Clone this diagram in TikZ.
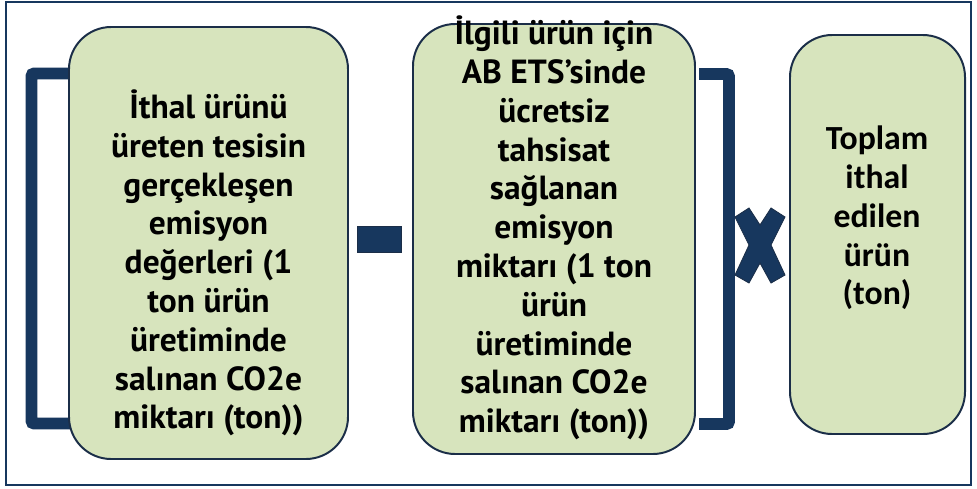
\documentclass[tikz,border=0pt]{standalone}
\usepackage{fontspec}
\setmainfont{PT Sans}
\newfontfamily\boxthree{Carlito}[Ligatures=NoCommon]
\usetikzlibrary{fit}
\definecolor{colorfill}{HTML}{D7E4BD}
\definecolor{colornavy}{HTML}{17375E}
\definecolor{colorline}{HTML}{1B2E48}
\tikzset{
  box/.style={draw=colorline, fill=colorfill, line width=1.4pt, rounded corners=30pt, inner sep=0pt},
  txt/.style={align=center, font=\bfseries\fontsize{23.8}{27.6}\selectfont, inner sep=0pt},
  brk/.style={colornavy, line width=8.5pt, rounded corners=2pt},
  op/.style={fill=colornavy, draw=colorline, line width=0.6pt}
}
\begin{document}
\begin{tikzpicture}[x=0.025cm, y=-0.025cm]
\useasboundingbox (0,0) rectangle (977,488);
\draw[colornavy, line width=2pt] (6,2) rectangle (971,485);
% brackets
\draw[brk] (75,73.5) -- (31.5,73.5) -- (31.5,423.5) -- (75,423.5);
\draw[brk] (699,74) -- (729,74) -- (729,424) -- (699,424);
% boxes
\node[box, fit={(69,27) (348,459)}] (b1) {};
\node[box, fit={(413,24) (695,454)}] (b2) {};
\node[box, fit={(790,35) (965,434)}] (b3) {};
\node[txt] (t1) at (208.5,263) {İthal ürünü\\üreten tesisin\\gerçekleşen\\emisyon\\değerleri (1\\ton ürün\\üretiminde\\salınan CO2e\\miktarı (ton))};
\node[txt] (t2) at (554,228) {İlgili ürün için\\AB ETS’sinde\\ücretsiz\\tahsisat\\sağlanan\\emisyon\\miktarı (1 ton\\ürün\\üretiminde\\salınan CO2e\\miktarı (ton))};
\node[txt, font=\boxthree\bfseries\fontsize{24}{27.6}\selectfont] (t3) at (877,218) {Toplam\\ithal\\edilen\\ürün\\(ton)};
% operators
\node[op, minimum width=1.1cm, minimum height=0.65cm, inner sep=0pt] (minus) at (379,239) {};
\filldraw[op] (735,217) -- (749,208) -- (760,225) -- (771,208) -- (785,217) -- (771,245)
  -- (785,275) -- (771,283) -- (760,263) -- (749,283) -- (735,275) -- (749,245) -- cycle;
\end{tikzpicture}
\end{document}
